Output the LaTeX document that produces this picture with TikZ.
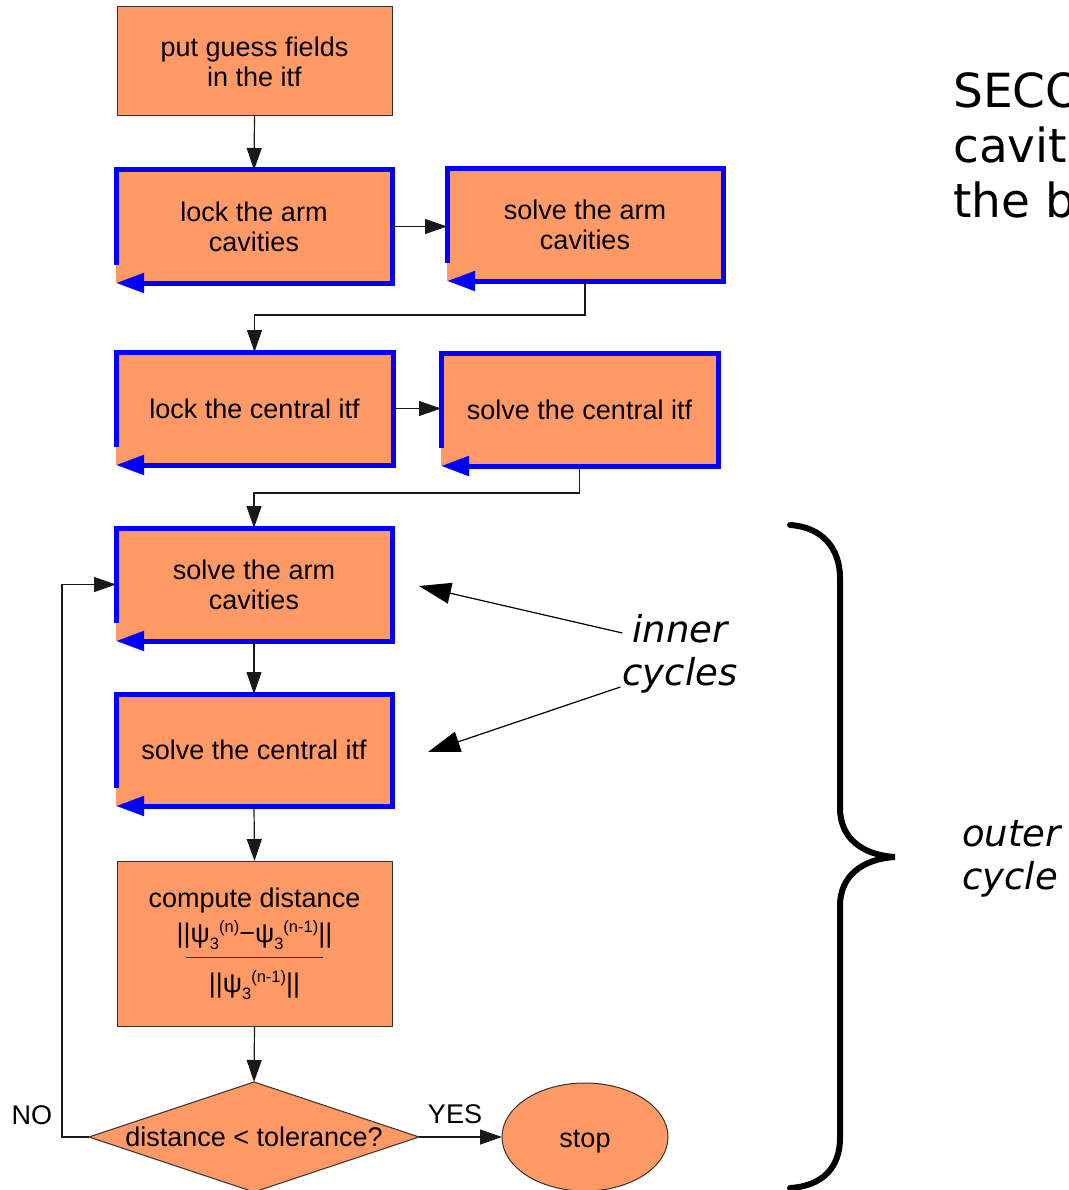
\documentclass[tikz,border=0pt]{standalone}
\usepackage{fontspec}
\setmainfont{Liberation Sans}
\newfontfamily\dejavu{DejaVu Sans}
\usetikzlibrary{arrows.meta,shapes.geometric}
\definecolor{boxfill}{RGB}{255,153,102}
\definecolor{rimblue}{RGB}{0,0,255}
\newcommand\psiterm[1]{ψ\raisebox{-7pt}{\fontsize{16.5}{16.5}\selectfont 3}\raisebox{10pt}{\fontsize{16.5}{16.5}\selectfont #1}}
\newcommand\bluerim[1]{\draw[rim] ([yshift=18pt]#1.south west) -- (#1.north west) -- (#1.north east) -- (#1.south east) -- (#1.south west);}
\begin{document}
\begin{tikzpicture}[x=1pt,y=-1pt,
  boxtext/.style={font=\fontsize{27}{30}\selectfont, align=center, text=black},
  flatbox/.style={boxtext, draw=black!80, line width=1pt, fill=boxfill, inner sep=0pt, outer sep=0pt},
  rimbox/.style={boxtext, fill=boxfill, inner sep=0pt, outer sep=0pt},
  rim/.style={draw=rimblue, line width=5pt, line join=miter, -{Triangle[length=28pt,width=19pt]}},
  conn/.style={draw=black!90, line width=1.2pt, -{Triangle[length=22pt,width=15pt]}},
  pointer/.style={draw=black, line width=1.2pt, -{Triangle[length=32pt,width=21pt]}},
  bracepath/.style={draw=black, line width=6pt, line cap=round},
  sidetext/.style={font=\dejavu\itshape\fontsize{37}{43}\selectfont, inner sep=0pt}
]
\fill[white] (0,0) rectangle (1068,1190);
\clip (0,0) rectangle (1068,1190);

% boxes
\node[flatbox, minimum width=275pt, minimum height=109pt] (b1) at (254.5,61.5) {put guess fields\\in the itf};
\node[rimbox, minimum width=276pt, minimum height=113pt] (b2) at (254,226.5) {lock the arm\\cavities};
\node[rimbox, minimum width=276pt, minimum height=112pt] (b3) at (585,225) {solve the arm\\cavities};
\node[rimbox, minimum width=277pt, minimum height=113pt] (b4) at (254.5,408.5) {lock the central itf};
\node[rimbox, minimum width=277pt, minimum height=113pt] (b5) at (579.5,409.5) {solve the central itf};
\node[rimbox, minimum width=276pt, minimum height=113pt] (b6) at (254,584.5) {solve the arm\\cavities};
\node[rimbox, minimum width=276pt, minimum height=112pt] (b7) at (254,750) {solve the central itf};
\node[flatbox, minimum width=275pt, minimum height=165pt] (b8) at (254.5,943.5)
  {compute distance\\[5pt]||\psiterm{(n)}−\psiterm{(n-1)}||\\[-14pt]{\color{black!80}\rule{137pt}{1.2pt}}\\[4pt]||\psiterm{(n-1)}||};
\node[flatbox, diamond, minimum width=330pt, minimum height=110pt,
  label={[boxtext]center:distance < tolerance?}] (dia) at (254,1137) {};
\node[flatbox, ellipse, minimum width=166pt, minimum height=108pt, text height=21pt, text depth=0pt] (stop) at (585,1137) {stop};

\bluerim{b2}
\bluerim{b3}
\bluerim{b4}
\bluerim{b5}
\bluerim{b6}
\bluerim{b7}

% connectors
\draw[conn] (b1.south) -- (b2.north);
\draw[conn] (b2.east) -- (b3.west |- b2.east);
\draw[conn] (b3.south) -- ++(0,34) -| (b4.north);
\draw[conn] (b4.east) -- (b5.west |- b4.east);
\draw[conn] (b5.south) -- ++(0,27) -| (b6.north);
\draw[conn] (b6.south) -- (b7.north);
\draw[conn] (b7.south) -- (b8.north);
\draw[conn] (b8.south) -- (dia.north);
\draw[conn] (dia.east) -- (stop.west);
\draw[conn] (dia.west) -- ++(-27,0) |- (b6.west);
\node[boxtext, inner sep=0pt] (yes) at (455,1114) {YES};
\node[boxtext, inner sep=0pt] (no) at (32,1115) {NO};

% annotations
\node[sidetext, align=center] (inner) at (680,654) {inner\\cycles};
\coordinate (tip1) at (419,586);
\coordinate (tip2) at (428,752);
\draw[pointer] ([yshift=21pt]inner.west) -- (tip1);
\draw[pointer] ([yshift=-33pt,xshift=-2pt]inner.west) -- (tip2);

\node[sidetext, align=left, anchor=west] (outer) at (962,859) {outer\\cycle};
\draw[bracepath] (790,525) .. controls (822,527) and (840,548) .. (840,578) -- (840,808)
  .. controls (840,838) and (862,855) .. (895,857)
  .. controls (862,859) and (840,876) .. (840,906) -- (840,1138)
  .. controls (840,1168) and (822,1186) .. (790,1188);

\node[font=\dejavu\fontsize{47}{55}\selectfont, align=left, anchor=north west, inner sep=0pt] (title) at (953,72) {SECO\\cavit\\the b};
\end{tikzpicture}
\end{document}
